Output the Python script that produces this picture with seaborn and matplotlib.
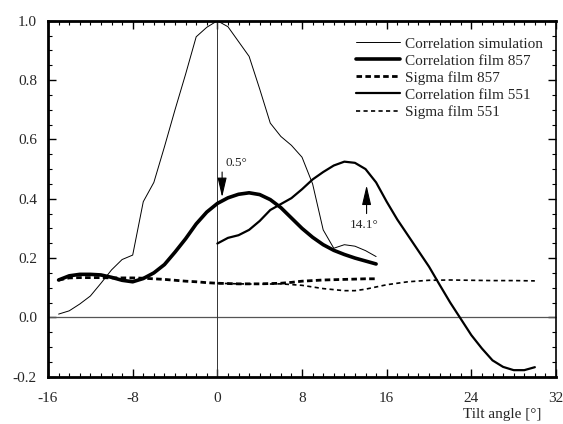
import numpy as np
import pandas as pd
import matplotlib
matplotlib.use("Agg")
import matplotlib.pyplot as plt
from matplotlib.ticker import MultipleLocator
import seaborn as sns

# tilt angles
x_sim = list(range(-15, 16))
x_551 = list(range(0, 31))
x_sig551 = [0, 2, 4, 6, 8, 10, 12, 13, 14, 16, 18, 20, 22, 24, 26, 28, 30]

corr_sim = [0.011, 0.022, 0.045, 0.072, 0.115, 0.16, 0.195, 0.21, 0.39, 0.455, 0.575,
            0.70, 0.82, 0.946, 0.978, 1.0, 0.98, 0.93, 0.88, 0.77, 0.655, 0.61, 0.58,
            0.54, 0.45, 0.295, 0.233, 0.245, 0.24, 0.225, 0.205]
corr_857 = [0.126, 0.14, 0.145, 0.145, 0.143, 0.135, 0.125, 0.12, 0.131, 0.15, 0.178,
            0.22, 0.265, 0.315, 0.355, 0.384, 0.403, 0.415, 0.42, 0.414, 0.397, 0.37,
            0.335, 0.3, 0.27, 0.245, 0.226, 0.212, 0.2, 0.19, 0.18]
sigma_857 = [0.126, 0.133, 0.134, 0.134, 0.134, 0.133, 0.133, 0.133, 0.132, 0.13, 0.128,
             0.125, 0.122, 0.12, 0.117, 0.115, 0.114, 0.113, 0.113, 0.113, 0.114, 0.115,
             0.118, 0.122, 0.124, 0.126, 0.127, 0.128, 0.129, 0.13, 0.13]
corr_551 = [0.249, 0.268, 0.277, 0.295, 0.325, 0.362, 0.382, 0.402, 0.432, 0.465, 0.49,
            0.512, 0.525, 0.521, 0.5, 0.455, 0.39, 0.33, 0.277, 0.224, 0.171, 0.11, 0.05,
            -0.005, -0.06, -0.105, -0.145, -0.167, -0.178, -0.178, -0.168]
sigma_551 = [0.115, 0.113, 0.112, 0.113, 0.108, 0.097, 0.09, 0.09, 0.095, 0.11, 0.12,
             0.125, 0.126, 0.125, 0.124, 0.124, 0.123]

sns.set_style("ticks")
plt.rcParams['font.family'] = ['Liberation Serif', 'DejaVu Serif']
plt.rcParams['axes.unicode_minus'] = False

fig, ax = plt.subplots(figsize=(5.63, 4.24), dpi=100)
fig.subplots_adjust(left=0.0853, right=0.9876, top=0.951, bottom=0.1116)

# reference lines
ax.axhline(0, color='#555555', linewidth=0.9, zorder=1)
ax.axvline(0, color='#333333', linewidth=0.7, zorder=1)

sns.lineplot(x=x_sim, y=corr_sim, ax=ax, color='black', linewidth=0.7,
             label='Correlation simulation')
sns.lineplot(x=x_sim, y=corr_857, ax=ax, color='black', linewidth=2.6,
             label='Correlation film 857')
sns.lineplot(x=x_sim, y=sigma_857, ax=ax, color='black', linewidth=2.0,
             linestyle=(0, (2, 1.2)), label='Sigma film 857')
sns.lineplot(x=x_551, y=corr_551, ax=ax, color='black', linewidth=1.6,
             label='Correlation film 551')
sns.lineplot(x=x_sig551, y=sigma_551, ax=ax, color='black', linewidth=1.2,
             linestyle=(0, (2.5, 2)), label='Sigma film 551')

ax.set_xlim(-16, 32)
ax.set_ylim(-0.2, 1.0)
ax.xaxis.set_major_locator(MultipleLocator(8))
ax.xaxis.set_minor_locator(MultipleLocator(1))
ax.yaxis.set_major_locator(MultipleLocator(0.2))
ax.yaxis.set_minor_locator(MultipleLocator(0.05))
ax.yaxis.set_major_formatter(matplotlib.ticker.FormatStrFormatter('%.1f'))
ax.tick_params(which='both', direction='in', top=True, right=True, labelsize=11,
               color='black')
ax.tick_params(which='major', length=6, width=1)
ax.tick_params(which='minor', length=3, width=0.8)
ax.tick_params(axis='x', which='major', pad=11)
ax.tick_params(axis='y', which='major', pad=8)
for side in ['left', 'bottom', 'top']:
    ax.spines[side].set_linewidth(2)
ax.spines['right'].set_linewidth(1.2)
for s in ax.spines.values():
    s.set_color('black')

ax.set_xlabel('')
ax.set_ylabel('')
ax.text(0.972, -0.107, 'Tilt angle [°]', transform=ax.transAxes, ha='right', va='center',
        fontsize=11)

arrow_props = dict(arrowstyle='-|>,head_length=1.2,head_width=0.28', color='black',
                   lw=0.8, mutation_scale=10, shrinkA=0, shrinkB=0)
ax.annotate('', xy=(0.45, 0.405), xytext=(0.45, 0.49), arrowprops=arrow_props)
ax.text(0.75, 0.522, '0.5°', fontsize=9.5, ha='left', va='center')
ax.annotate('', xy=(14.1, 0.445), xytext=(14.1, 0.35), arrowprops=arrow_props)
ax.text(13.9, 0.31, '14.1°', fontsize=9.5, ha='center', va='center')

leg = ax.legend(loc='upper right', frameon=False, fontsize=11, handlelength=2.9,
                handletextpad=0.3, labelspacing=0.22, bbox_to_anchor=(0.995, 0.985),
                borderaxespad=0.3)

fig.savefig('out.png', dpi=100)
